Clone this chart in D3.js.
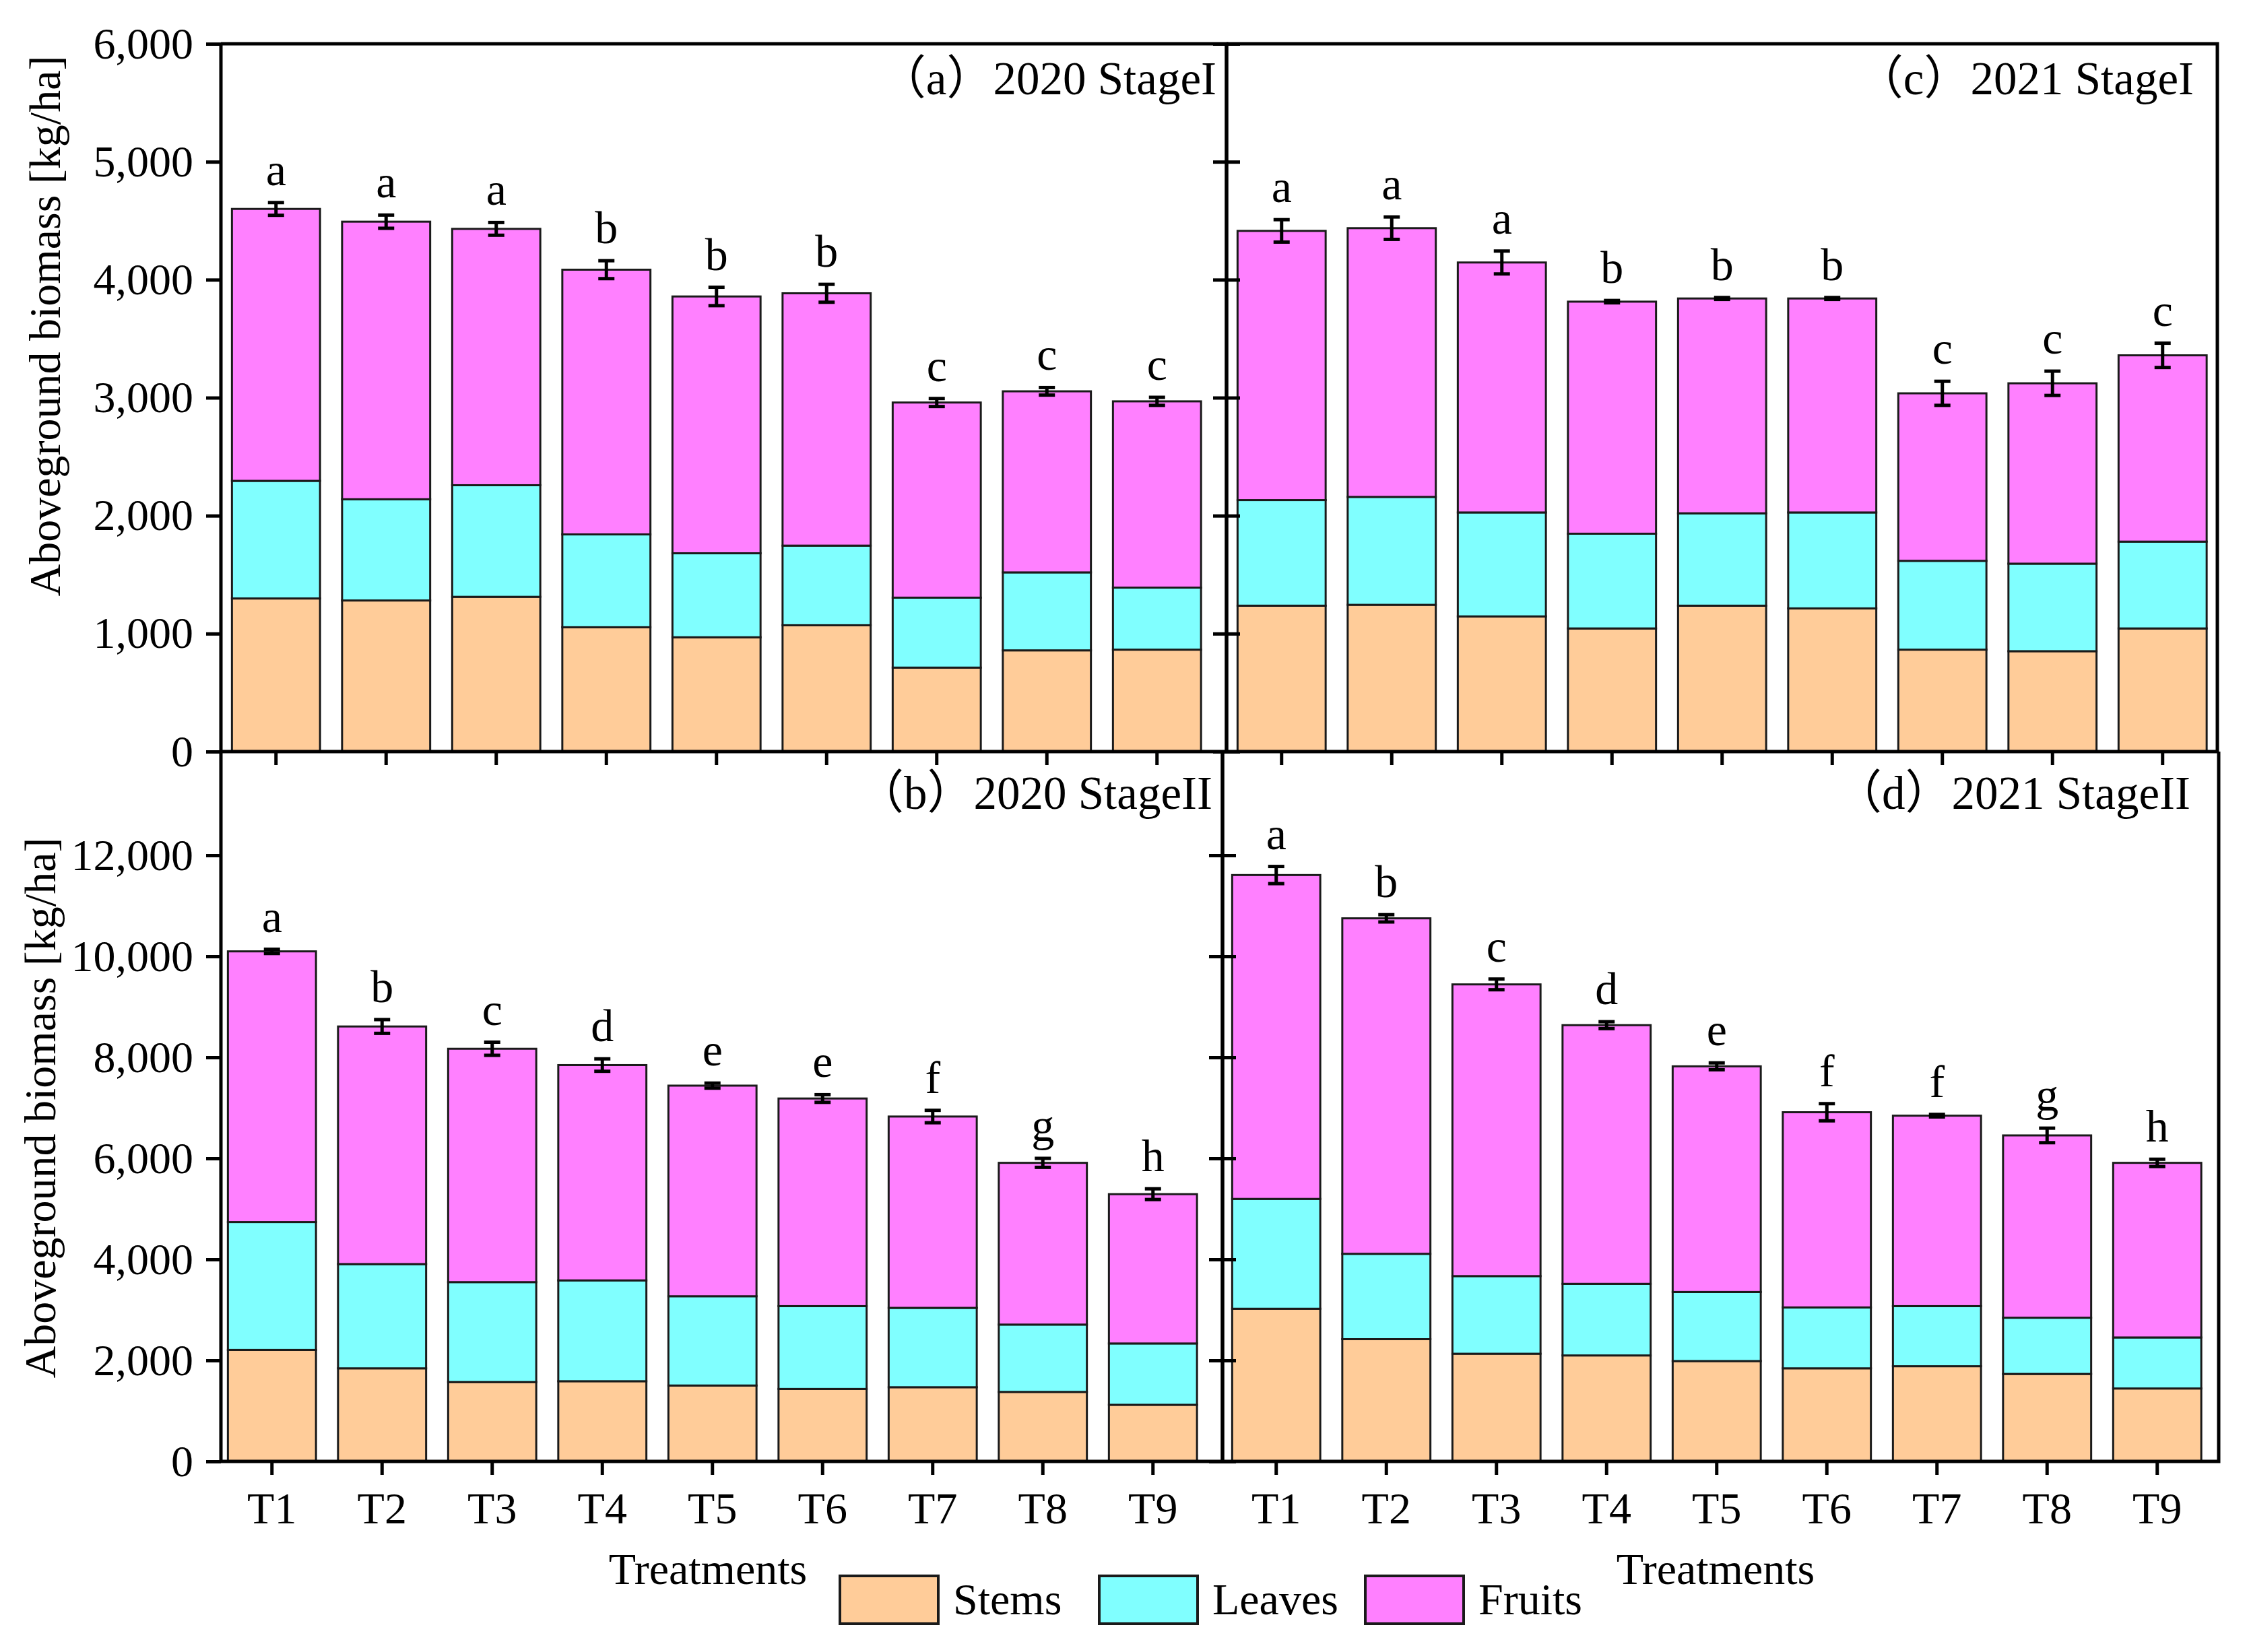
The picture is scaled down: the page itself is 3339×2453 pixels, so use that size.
<!DOCTYPE html>
<html>
<head>
<meta charset="utf-8">
<script src="https://cdn.jsdelivr.net/npm/d3@7"></script>
<style>
  body { margin: 0; background: #fff; }
  text { font-family: "Liberation Serif", "Times New Roman", "Noto Sans CJK SC", serif; fill: #000; }
</style>
</head>
<body>
<div id="chart"></div>
<script>
// categories and series
var treatments = ["T1", "T2", "T3", "T4", "T5", "T6", "T7", "T8", "T9"];
var parts = ["Stems", "Leaves", "Fruits"];
var partColors = ["#FFCC99", "#80FFFF", "#FF80FF"];

// (a) 2020 Stage I
var stemsA  = [1298, 1281, 1312, 1054, 969, 1071, 712, 858, 864];
var leavesA = [997, 858, 946, 787, 712, 675, 593, 661, 526];
var fruitsA = [2305, 2353, 2173, 2244, 2177, 2139, 1654, 1535, 1579];
var errA    = [54, 56, 54, 76, 78, 76, 34, 32, 34];
var lettersA = ["a", "a", "a", "b", "b", "b", "c", "c", "c"];

// (c) 2021 Stage I
var stemsC  = [1237, 1244, 1146, 1044, 1237, 1214, 864, 851, 1044];
var leavesC = [895, 915, 881, 803, 783, 813, 753, 742, 736];
var fruitsC = [2282, 2278, 2119, 1967, 1821, 1814, 1420, 1529, 1579];
var errC    = [95, 95, 97, 10, 8, 8, 102, 103, 103];
var lettersC = ["a", "a", "a", "b", "b", "b", "c", "c", "c"];

// (b) 2020 Stage II
var stemsB  = [2208, 1843, 1571, 1588, 1503, 1435, 1469, 1376, 1121];
var leavesB = [2531, 2064, 1979, 1996, 1767, 1639, 1571, 1333, 1214];
var fruitsB = [5359, 4704, 4620, 4263, 4170, 4111, 3788, 3202, 2956];
var errB    = [42, 136, 130, 123, 50, 76, 123, 89, 106];
var lettersB = ["a", "b", "c", "d", "e", "e", "f", "g", "h"];

// (d) 2021 Stage II
var stemsD  = [3023, 2420, 2132, 2098, 1987, 1843, 1885, 1732, 1444];
var leavesD = [2174, 1690, 1537, 1418, 1368, 1206, 1189, 1113, 1010];
var fruitsD = [6412, 6642, 5775, 5121, 4467, 3864, 3771, 3609, 3457];
var errD    = [170, 72, 106, 68, 68, 170, 25, 144, 72];
var lettersD = ["a", "b", "c", "d", "e", "f", "f", "g", "h"];

var ticksTop = [0, 1000, 2000, 3000, 4000, 5000, 6000];
var ticksBottom = [0, 2000, 4000, 6000, 8000, 10000, 12000];

var width = 3339,
    height = 2453,
    fs = 66;

var svg = d3.select("#chart").append("svg")
    .attr("width", width)
    .attr("height", height)
    .style("background", "#fff");

var yTop = d3.scaleLinear().domain([0, 6000]).range([1116, 65]);
var yBottom = d3.scaleLinear().domain([0, 14000]).range([2170, 1120]);

var panels = [
  {title: "（a）2020 StageI", s: stemsA, l: leavesA, f: fruitsA, e: errA, L: lettersA,
   x0: 328, x1: 1821, bandX: 328, y: yTop, ticks: ticksTop, left: true, bottom: false, titleX: 1806, titleY: 140},
  {title: "（c）2021 StageI", s: stemsC, l: leavesC, f: fruitsC, e: errC, L: lettersC,
   x0: 1821, x1: 3292, bandX: 1821, y: yTop, ticks: ticksTop, left: false, bottom: false, titleX: 3257, titleY: 140},
  {title: "（b）2020 StageII", s: stemsB, l: leavesB, f: fruitsB, e: errB, L: lettersB,
   x0: 328, x1: 1815, bandX: 322, y: yBottom, ticks: ticksBottom, left: true, bottom: true, titleX: 1800, titleY: 1201},
  {title: "（d）2021 StageII", s: stemsD, l: leavesD, f: fruitsD, e: errD, L: lettersD,
   x0: 1815, x1: 3294, bandX: 1813, y: yBottom, ticks: ticksBottom, left: false, bottom: true, titleX: 3252, titleY: 1201}
];

var step = 163.5;
var stack = d3.stack().keys(parts);

panels.forEach(function(p) {
  var g = svg.append("g");
  var y = p.y;
  var x = d3.scaleBand()
      .domain(treatments)
      .range([p.bandX, p.bandX + step * treatments.length])
      .paddingInner(0.2)
      .paddingOuter(0.1);

  var rows = treatments.map(function(t, i) {
    return {t: t, Stems: p.s[i], Leaves: p.l[i], Fruits: p.f[i], err: p.e[i], letter: p.L[i]};
  });
  var layers = stack(rows);

  g.selectAll("g.layer")
    .data(layers)
    .enter().append("g")
      .attr("class", "layer")
      .attr("fill", function(d, i) { return partColors[i]; })
    .selectAll("rect")
    .data(function(d) { return d; })
    .enter().append("rect")
      .attr("x", function(d) { return x(d.data.t); })
      .attr("width", x.bandwidth())
      .attr("y", function(d) { return y(d[1]); })
      .attr("height", function(d) { return y(d[0]) - y(d[1]); })
      .attr("stroke", "#1a1a1a")
      .attr("stroke-width", 3);

  // error bars
  var eb = g.selectAll("g.err")
    .data(rows)
    .enter().append("g")
      .attr("class", "err")
      .attr("transform", function(d) { return "translate(" + (x(d.t) + x.bandwidth() / 2) + ",0)"; })
      .attr("stroke", "#000")
      .attr("stroke-width", 5);
  function total(d) { return d.Stems + d.Leaves + d.Fruits; }
  eb.append("line")
    .attr("y1", function(d) { return y(total(d) + d.err); })
    .attr("y2", function(d) { return y(total(d) - d.err); });
  eb.append("line")
    .attr("x1", -12).attr("x2", 12)
    .attr("y1", function(d) { return y(total(d) + d.err); })
    .attr("y2", function(d) { return y(total(d) + d.err); });
  eb.append("line")
    .attr("x1", -12).attr("x2", 12)
    .attr("y1", function(d) { return y(total(d) - d.err); })
    .attr("y2", function(d) { return y(total(d) - d.err); });

  // significance letters
  g.selectAll("text.sig")
    .data(rows)
    .enter().append("text")
      .attr("class", "sig")
      .attr("x", function(d) { return x(d.t) + x.bandwidth() / 2; })
      .attr("y", function(d) { return y(total(d) + d.err) - 26; })
      .attr("text-anchor", "middle")
      .attr("font-size", 68)
      .text(function(d) { return d.letter; });

  // y axis
  var yb = y.range()[0];
  if (p.left) {
    var ya = g.append("g")
        .attr("transform", "translate(" + p.x0 + ",0)")
        .call(d3.axisLeft(y).tickValues(p.ticks).tickSize(22).tickPadding(19).tickFormat(d3.format(",")));
    ya.select(".domain").remove();
    ya.selectAll("line").attr("stroke-width", 5);
    ya.selectAll("text").attr("font-size", fs).attr("font-family", null);
  } else {
    [d3.axisLeft(y), d3.axisRight(y)].forEach(function(ax) {
      var a = g.append("g")
          .attr("transform", "translate(" + p.x0 + ",0)")
          .call(ax.tickValues(p.ticks).tickSize(20).tickFormat(""));
      a.select(".domain").remove();
      a.selectAll("line").attr("stroke-width", 5);
    });
  }

  // x axis
  var xa = g.append("g")
      .attr("transform", "translate(0," + yb + ")")
      .call(d3.axisBottom(x).tickSize(20).tickPadding(25)
        .tickFormat(p.bottom ? null : function() { return ""; }));
  xa.select(".domain").remove();
  xa.selectAll("line").attr("stroke-width", 5);
  xa.selectAll("text").attr("font-size", fs).attr("font-family", null);

  // frame
  var yt = p.bottom ? 1116 : 65;
  g.append("path")
    .attr("fill", "none")
    .attr("stroke", "#000")
    .attr("stroke-width", 5)
    .attr("d", "M" + p.x0 + "," + yt + "V" + yb + "H" + p.x1 + "V" + yt + (p.bottom ? "" : "H" + p.x0));

  // panel title
  g.append("text")
    .attr("x", p.titleX)
    .attr("y", p.titleY)
    .attr("text-anchor", "end")
    .attr("font-size", 69)
    .text(p.title);
});

// y axis titles
[[89, 484], [82, 1645]].forEach(function(pos) {
  svg.append("text")
    .attr("transform", "translate(" + pos[0] + "," + pos[1] + ")rotate(-90)")
    .attr("text-anchor", "middle")
    .attr("font-size", fs)
    .text("Aboveground biomass [kg/ha]");
});

// x axis titles
[1051, 2547].forEach(function(cx) {
  svg.append("text")
    .attr("x", cx)
    .attr("y", 2352)
    .attr("text-anchor", "middle")
    .attr("font-size", fs)
    .text("Treatments");
});

// legend
var legendX = [1247, 1632, 2027];
var lg = svg.selectAll("g.legend")
  .data(parts)
  .enter().append("g")
    .attr("class", "legend")
    .attr("transform", function(d, i) { return "translate(" + legendX[i] + ",2340)"; });
lg.append("rect")
  .attr("width", 146)
  .attr("height", 71)
  .attr("fill", function(d, i) { return partColors[i]; })
  .attr("stroke", "#1a1a1a")
  .attr("stroke-width", 4);
lg.append("text")
  .attr("x", 168)
  .attr("y", 57)
  .attr("font-size", fs)
  .text(function(d) { return d; });
</script>
</body>
</html>
